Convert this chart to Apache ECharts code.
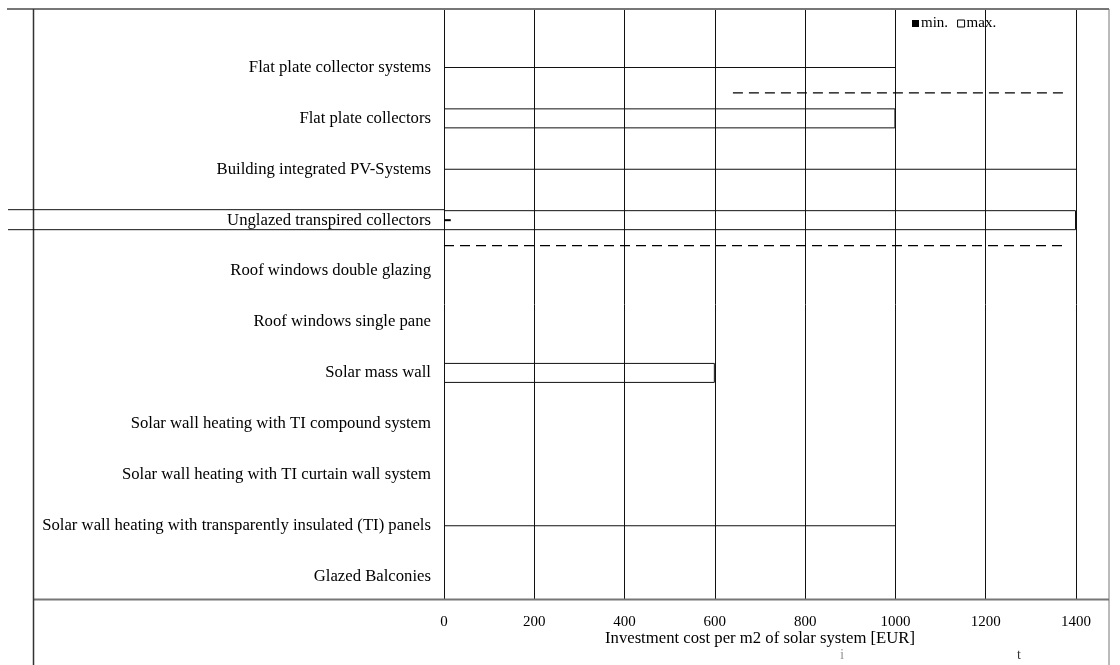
<!DOCTYPE html>
<html><head><meta charset="utf-8">
<script src="https://cdn.jsdelivr.net/npm/echarts@6/dist/echarts.min.js"></script>
<style>html,body{margin:0;padding:0;background:#fff}#c{width:1120px;height:665px}</style>
</head><body><div id="c"></div>
<script>
const categories = [
  'Flat plate collector systems',
  'Flat plate collectors',
  'Building integrated PV-Systems',
  'Unglazed transpired collectors',
  'Roof windows double glazing',
  'Roof windows single pane',
  'Solar mass wall',
  'Solar wall heating with TI compound system',
  'Solar wall heating with TI curtain wall system',
  'Solar wall heating with transparently insulated (TI) panels',
  'Glazed Balconies'
];
const minValues  = [null, null, null, 15, null, null, null, null, null, null, null];
const maxValues  = [null, 1000, null, 1400, null, null, 600, null, null, null, null];
const edgeValues = [1000, null, 1400, null, null, null, null, null, null, 1000, null];
const dashRows  = [1, 4];
const dashStart = [640, 0];
const dashEnd   = [1380, 1380];
const xMin = 0, xMax = 1400, xStep = 200;
const strayText = ['i', 't'];

const FONT = 'Liberation Serif';
const chart = echarts.init(document.getElementById('c'), null, {renderer: 'canvas'});

const dashSeries = dashRows.map((r, i) => ({
  type: 'line', xAxisIndex: 1, yAxisIndex: 1, symbol: 'none', silent: true,
  data: [[dashStart[i], r], [dashEnd[i], r]],
  lineStyle: {color: '#000', width: 1.2, type: [10, 6]}, z: 3
}));

chart.setOption({
  backgroundColor: '#fff',
  animation: false,
  grid: [
    {left: 444, right: 44, top: 10, bottom: 66},
    {left: 444, right: 44, top: 42, bottom: 63}
  ],
  legend: {
    left: 907, top: 11, itemWidth: 7, itemHeight: 7, itemGap: 9, selectedMode: false,
    textStyle: {fontFamily: FONT, fontSize: 15, color: '#000', padding: [0, 0, 0, -3]},
    data: [
      {name: 'min.', icon: 'rect', itemStyle: {color: '#000', borderWidth: 0}},
      {name: 'max.', icon: 'rect', itemStyle: {color: '#fff', borderColor: '#000', borderWidth: 1}}
    ]
  },
  xAxis: [
    {gridIndex: 0, type: 'value', min: xMin, max: xMax, interval: xStep,
     axisLine: {show: false}, axisTick: {show: false},
     splitLine: {show: true, lineStyle: {color: '#111', width: 1}},
     axisLabel: {margin: 16, fontFamily: FONT, fontSize: 15, color: '#000', formatter: v => String(v)},
     name: 'Investment cost per m2 of solar system [EUR]', nameLocation: 'middle', nameGap: 31,
     nameMoveOverlap: false,
     nameTextStyle: {fontFamily: FONT, fontSize: 16.7, color: '#000'}},
    {gridIndex: 1, type: 'value', min: xMin, max: xMax, interval: xStep, show: false}
  ],
  yAxis: [
    {gridIndex: 1, type: 'category', data: categories, inverse: true,
     axisLine: {show: false}, axisTick: {show: false}, splitLine: {show: false},
     axisLabel: {margin: 13, fontFamily: FONT, fontSize: 16.7, color: '#000'}},
    {gridIndex: 1, type: 'value', min: 0, max: categories.length, inverse: true, show: false},
    {gridIndex: 1, type: 'category', data: categories, inverse: true, show: false},
    {gridIndex: 1, type: 'category', data: categories, inverse: true, show: false},
    {gridIndex: 0, type: 'value', min: 0, max: 1, show: false}
  ],
  series: [
    {name: 'max.', type: 'bar', xAxisIndex: 1, yAxisIndex: 0, data: maxValues, barWidth: 20,
     itemStyle: {color: 'rgba(0,0,0,0)', borderColor: '#111', borderWidth: 1}, z: 3},
    {name: 'min.', type: 'bar', xAxisIndex: 1, yAxisIndex: 2, data: minValues, barWidth: 2,
     itemStyle: {color: '#000'}, z: 4},
    {name: 'edge', type: 'bar', xAxisIndex: 1, yAxisIndex: 3, data: edgeValues, barWidth: 1,
     itemStyle: {color: '#111'}, z: 3},
    ...dashSeries
  ]
});

// frame decoration derived from the chart's own scales
const x0 = chart.convertToPixel({xAxisIndex: 1}, 0);
const yU = chart.convertToPixel({yAxisIndex: 0}, categories[3]);
chart.setOption({
  graphic: [
    {type: 'line', shape: {x1: 7, y1: 9, x2: 1109, y2: 9}, style: {stroke: '#777', lineWidth: 2}},
    {type: 'line', shape: {x1: 33, y1: 599.5, x2: 1109, y2: 599.5}, style: {stroke: '#777', lineWidth: 2}},
    {type: 'line', shape: {x1: 33.5, y1: 9, x2: 33.5, y2: 665}, style: {stroke: '#333', lineWidth: 1.5}},
    {type: 'line', shape: {x1: 1109, y1: 9, x2: 1109, y2: 665}, style: {stroke: '#777', lineWidth: 1}},
    {type: 'line', shape: {x1: 8, y1: yU - 10.5, x2: x0, y2: yU - 10.5}, style: {stroke: '#111', lineWidth: 1}},
    {type: 'line', shape: {x1: 8, y1: yU + 9.5, x2: x0, y2: yU + 9.5}, style: {stroke: '#111', lineWidth: 1}},
    {type: 'text', left: 840, top: 648, style: {text: strayText[0], fill: '#999', font: '15px ' + FONT}},
    {type: 'text', left: 1017, top: 648, style: {text: strayText[1], fill: '#333', font: '14px ' + FONT}}
  ]
});
</script></body></html>
